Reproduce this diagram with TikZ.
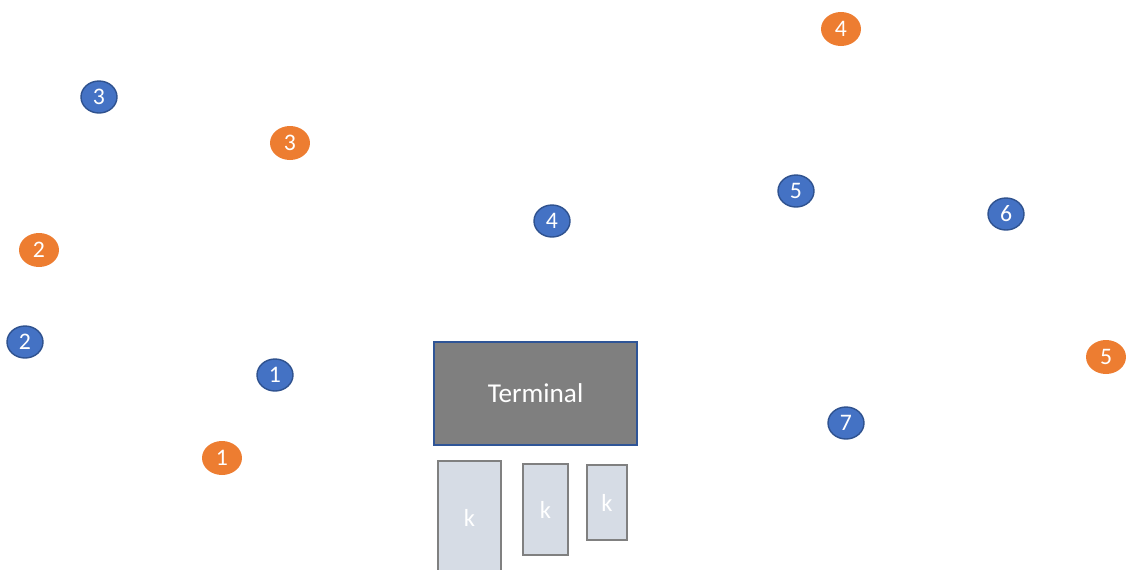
\documentclass[tikz,border=0pt]{standalone}
\usepackage{fontspec}
\setmainfont{Carlito}
\definecolor{stopblue}{RGB}{68, 114, 196}
\definecolor{stopedge}{RGB}{47, 82, 143}
\definecolor{pickorange}{RGB}{237, 125, 49}
\definecolor{termgray}{RGB}{127, 127, 127}
\definecolor{termedge}{RGB}{47, 85, 151}
\definecolor{kiosk}{RGB}{214, 220, 229}
\definecolor{kioskedge}{RGB}{128, 128, 128}
\usetikzlibrary{shapes.geometric}

\begin{document}
\begin{tikzpicture}[x=0.02cm, y=-0.02cm,
    bluestop/.style={ellipse, draw=stopedge, line width=0.8pt, fill=stopblue, text=white,
      minimum width=0.72cm, minimum height=0.64cm, inner sep=0pt, font=\fontsize{13.5}{15}\selectfont},
    orangestop/.style={ellipse, fill=pickorange, text=white,
      minimum width=0.8cm, minimum height=0.68cm, inner sep=0pt, font=\fontsize{13.5}{15}\selectfont},
    kbox/.style={draw=kioskedge, line width=1pt, fill=kiosk}]
  \useasboundingbox (0, 0) rectangle (1126, 569);

  % terminal and kiosks
  \node[draw=termedge, line width=0.8pt, fill=termgray, text=white, minimum width=4.06cm, minimum height=2.06cm,
    font=\fontsize{15.5}{18}\selectfont] (term) at (535.5, 393.5) {Terminal};
  \begin{scope}
    \clip (0, 0) rectangle (1126, 569);
    \draw[kbox] (438, 461) rectangle (501, 580);
  \end{scope}
  \node[text=white, font=\fontsize{14}{16}\selectfont] (k1) at (469.5, 518) {k};
  \node[kbox, minimum width=0.9cm, minimum height=1.82cm, text=white, font=\fontsize{14}{16}\selectfont] (k2) at (545.5, 509.5) {k};
  \node[kbox, minimum width=0.8cm, minimum height=1.5cm, text=white, font=\fontsize{14}{16}\selectfont] (k3) at (607, 502.5) {k};

  % blue stops
  \node[bluestop] (b1) at (275, 375) {1};
  \node[bluestop] (b2) at (25, 342) {2};
  \node[bluestop] (b3) at (99, 97) {3};
  \node[bluestop] (b4) at (552, 221) {4};
  \node[bluestop] (b5) at (796, 191) {5};
  \node[bluestop] (b6) at (1006, 214) {6};
  \node[bluestop] (b7) at (846, 423) {7};

  % orange stops
  \node[orangestop] (o1) at (222, 458) {1};
  \node[orangestop] (o2) at (39, 250) {2};
  \node[orangestop] (o3) at (290, 143) {3};
  \node[orangestop] (o4) at (841, 29) {4};
  \node[orangestop] (o5) at (1106, 357) {5};
\end{tikzpicture}
\end{document}
